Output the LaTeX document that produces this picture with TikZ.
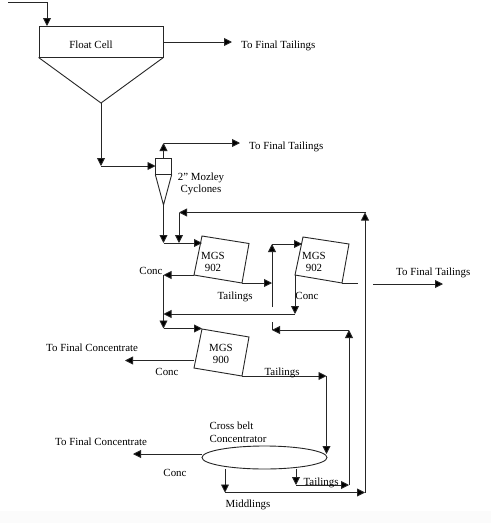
\documentclass[tikz,border=0pt]{standalone}
\usepackage{fontspec}
\setmainfont{Liberation Serif}
\usetikzlibrary{arrows.meta,shapes.geometric}
\tikzset{
  x=1pt,y=-1pt,
  line/.style={draw=black!85,line width=0.9pt,line cap=butt,line join=miter},
  flow/.style={line,-{Triangle[length=8pt,width=8pt,fill=black]}},
  lab/.style={font=\fontsize{10.9}{12.5}\selectfont,inner sep=0pt,text=black,yshift=-1pt},
  one/.style={lab,text height=7.2pt,text depth=2.4pt,yshift=-0.7pt},
  unit/.style={line,fill=white},
}
\begin{document}
\begin{tikzpicture}
\useasboundingbox (0,0) rectangle (491,523);
\fill[white] (0,0) rectangle (491,523);
\fill[black!1.5] (0,511) rectangle (491,523);
% units
\node[unit,minimum width=124pt,minimum height=31pt,inner sep=0pt] (cell) at (101,41.5) {};
\node[one] (celltxt) at (91,44.5) {Float Cell};
\coordinate (apex) at (101,103);
\draw[line] (cell.south west) -- (apex) -- (cell.south east);
\node[unit,minimum width=15.5pt,minimum height=16pt,inner sep=0pt] (cyc) at (163.5,166) {};
\coordinate (cycapex) at (163.5,205);
\draw[line] (cyc.south west) -- (cycapex) -- (cyc.south east);
\node[lab,align=center] (cyctxt) at (201,183) {2” Mozley\\Cyclones};
% MGS units
\coordinate (a1) at (202,236); \coordinate (a2) at (249,243.5); \coordinate (a3) at (242,283); \coordinate (a4) at (194,275);
\draw[unit] (a1) -- (a2) -- (a3) -- (a4) -- cycle;
\node[lab,align=center] (atxt) at (213,261) {MGS\\902};
\coordinate (b1) at (303,237); \coordinate (b2) at (349,244); \coordinate (b3) at (342,283); \coordinate (b4) at (295,275);
\draw[unit] (b1) -- (b2) -- (b3) -- (b4) -- cycle;
\node[lab,align=center] (btxt) at (314,261) {MGS\\902};
\coordinate (c1) at (202,329); \coordinate (c2) at (249,337); \coordinate (c3) at (242,376); \coordinate (c4) at (194,368);
\draw[unit] (c1) -- (c2) -- (c3) -- (c4) -- cycle;
\node[lab,align=center] (ctxt) at (221,353) {MGS\\900};
\node[unit,ellipse,minimum width=125pt,minimum height=23pt,inner sep=0pt] (belt) at (264.5,457.5) {};
\node[lab,align=left] (belttxt) at (238,431.5) {Cross belt\\Concentrator};
% free ends and junctions
\coordinate (feed0) at (8,2); \coordinate (feed1) at (47,2); \coordinate (feed2) at (47,26);
\coordinate (ft1) at (232,42); \coordinate (cellout) at (163,42);
\coordinate (j1) at (101,166); \coordinate (cycin) at (155.5,166);
\coordinate (j2) at (163.5,143); \coordinate (ft2) at (240,143);
\coordinate (j3) at (163.5,243); \coordinate (a1in) at (202,243);
\coordinate (j4) at (179,212.5); \coordinate (j5) at (179,243);
\coordinate (j6) at (366,212.5); \coordinate (j7) at (365,492.5);
\coordinate (j6b) at (365,212.5); \coordinate (j8b) at (365,492.5);
\coordinate (a4o) at (194,275); \coordinate (j8) at (163.5,275); \coordinate (j9) at (163.5,328.5); \coordinate (c1in) at (202,328.5);
\coordinate (j10) at (272,283); \coordinate (j11) at (272,307); \coordinate (j12) at (272,244); \coordinate (b1in) at (302,244);
\coordinate (j13) at (358,283);
\coordinate (j14) at (295,314); \coordinate (j15) at (163.5,314);
\coordinate (j16) at (272,322); \coordinate (j17) at (272,330); \coordinate (j18) at (349,330); \coordinate (j19) at (349,485);
\coordinate (j20) at (296,485); \coordinate (j21) at (296,468.5);
\coordinate (j22) at (225,469); \coordinate (j23) at (225,492.5);
\coordinate (j24) at (326.5,376); \coordinate (j25) at (326.5,454);
\coordinate (c4o) at (194,360.5); \coordinate (fc1) at (125,360.5);
\coordinate (fc2) at (133,454); \coordinate (belto) at (202,454);
\coordinate (ft3a) at (373,284); \coordinate (ft3b) at (443,284);
% connectors
\draw[line] (feed0) -- (feed1);
\draw[flow] (feed1) -- (feed2);
\draw[flow] (cellout) -- (ft1);
\draw[flow] (apex) -- (j1);
\draw[flow] (j1) -- (cycin);
\draw[flow] (cyc.north) -- (j2);
\draw[flow] (j2) -- (ft2);
\draw[flow] (cycapex) -- (j3);
\draw[flow] (j3) -- (a1in);
\draw[flow] (j6) -- (j4);
\draw[flow] (j4) -- (j5);
\draw[flow] (j8b) -- (j6b);
\draw[flow] (a4o) -- (j8);
\draw[flow] (j8) -- (j9);
\draw[flow] (j9) -- (c1in);
\draw[flow] (a3) -- (j10);
\draw[flow] (j11) -- (j12);
\draw[flow] (j12) -- (b1in);
\draw[line] (b3) -- (j13);
\draw[flow] (b4) -- (j14);
\draw[flow] (j14) -- (j15);
\draw[line] (j16) -- (j17);
\draw[flow] (j18) -- (j17);
\draw[flow] (j19) -- (j18);
\draw[flow] (j20) -- (j19);
\draw[flow] (j21) -- (j20);
\draw[flow] (j22) -- (j23);
\draw[flow] (j23) -- (j7);
\draw[flow] (c3) -- (j24);
\draw[flow] (j24) -- (j25);
\draw[flow] (c4o) -- (fc1);
\draw[flow] (belto) -- (fc2);
\draw[flow] (ft3a) -- (ft3b);
% labels
\node[one,anchor=west] (t1) at (241,44.5) {To Final Tailings};
\node[one,anchor=west] (t2) at (249,145) {To Final Tailings};
\node[one,anchor=west] (t3) at (396,271) {To Final Tailings};
\node[one,anchor=west] (t4) at (46,347.5) {To Final Concentrate};
\node[one,anchor=west] (t5) at (55,441) {To Final Concentrate};
\node[one] (l1) at (151,270) {Conc};
\node[one] (l2) at (235,295) {Tailings};
\node[one] (l3) at (307,295) {Conc};
\node[one] (l4) at (167,371) {Conc};
\node[one] (l5) at (282,371) {Tailings};
\node[one] (l6) at (175,472) {Conc};
\node[one] (l7) at (321,481) {Tailings};
\node[one] (l8) at (248,503) {Middlings};
\end{tikzpicture}
\end{document}
